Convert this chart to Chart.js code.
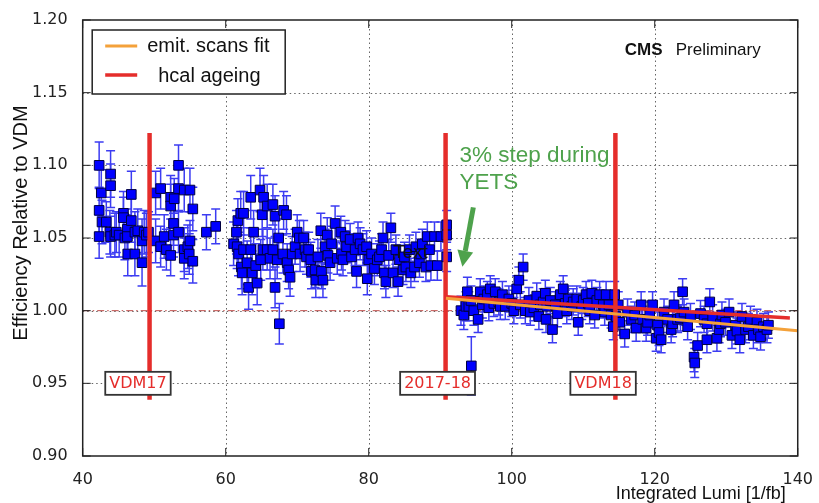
<!DOCTYPE html>
<html lang="en">
<head>
<meta charset="UTF-8" />
<title>Efficiency relative to VDM vs integrated lumi</title>
<script src="https://cdn.jsdelivr.net/npm/chart.js"></script>
<style>
  body { margin: 0; background: #fff; }
  canvas { display: block; }
</style>
</head>
<body>
<canvas id="effChart" width="819" height="503"></canvas>
<script>
// [integrated lumi (1/fb), efficiency relative to VDM, error]
const pts2017early = [
  [42.3,1.100,0.016],[42.3,1.069,0.016],[42.3,1.051,0.015],[42.6,1.081,0.016],[42.7,1.061,0.015],
  [43.3,1.061,0.014],[43.8,1.054,0.015],[43.9,1.094,0.016],[43.9,1.086,0.015],[43.9,1.051,0.014],
  [44.5,1.052,0.015],[44.7,1.054,0.014],[45.1,1.052,0.015],[45.7,1.067,0.015],[45.7,1.064,0.014],
  [45.9,1.050,0.015],[46.25,1.056,0.014],[46.25,1.051,0.015],[46.3,1.039,0.015],[46.8,1.080,0.016],
  [46.8,1.062,0.015],[47.3,1.054,0.014],[47.3,1.039,0.015],[47.7,1.055,0.015],[48.3,1.048,0.015],
  [48.3,1.033,0.016],[48.6,1.054,0.015],[48.9,1.052,0.015],[49.2,1.054,0.014]
];
const pts2017vdm = [
  [50.2,1.081,0.015],[50.2,1.048,0.015],[50.9,1.084,0.014],[50.9,1.044,0.014],[51.4,1.051,0.015],
  [51.7,1.042,0.014],[52.3,1.078,0.015],[52.3,1.072,0.015],[52.3,1.038,0.014],[52.7,1.060,0.015],
  [52.7,1.052,0.015],[52.8,1.077,0.014],[53.4,1.100,0.014],[53.4,1.084,0.015],[53.4,1.054,0.014],
  [54.2,1.083,0.015],[54.2,1.042,0.015],[54.2,1.036,0.014],[54.7,1.044,0.015],[54.9,1.039,0.014],
  [55.0,1.083,0.015],[55.0,1.048,0.014],[55.4,1.070,0.015],[55.4,1.034,0.015],[57.3,1.054,0.012],
  [58.6,1.058,0.012]
];
const pts2017late = [
  [61.1,1.046,0.015],[61.5,1.054,0.015],[61.6,1.044,0.015],[61.7,1.062,0.015],[61.8,1.039,0.015],
  [62.1,1.067,0.015],[62.2,1.030,0.015],[62.3,1.026,0.015],[62.5,1.067,0.015],[62.5,1.042,0.015],
  [63.0,1.033,0.015],[63.2,1.016,0.015],[63.5,1.078,0.015],[63.5,1.042,0.015],[63.7,1.026,0.015],
  [63.9,1.054,0.015],[64.2,1.031,0.015],[64.4,1.019,0.015],[64.8,1.083,0.015],[64.9,1.035,0.014],
  [65.1,1.066,0.015],[65.2,1.042,0.014],[65.3,1.078,0.015],[65.8,1.072,0.015],[65.8,1.042,0.014],
  [66.2,1.036,0.014],[66.6,1.073,0.014],[66.6,1.042,0.014],[66.9,1.065,0.014],[66.9,1.016,0.014],
  [67.2,1.035,0.013],[67.4,1.050,0.013],[67.5,0.991,0.014],[68.0,1.039,0.013],[68.1,1.069,0.013],
  [68.5,1.066,0.013],[68.6,1.033,0.013],[68.8,1.028,0.013],[69.0,1.023,0.013],[69.3,1.039,0.012],
  [69.7,1.044,0.012],[70.0,1.054,0.012],[70.3,1.050,0.012],[70.4,1.039,0.012],[70.9,1.050,0.012],
  [71.1,1.042,0.012],[71.3,1.037,0.012],[71.6,1.042,0.012],[71.9,1.035,0.012],[72.0,1.027,0.012],
  [72.5,1.028,0.012],[72.6,1.021,0.012],[72.9,1.037,0.012],[73.3,1.055,0.012],[73.4,1.027,0.012],
  [73.6,1.021,0.012],[73.9,1.044,0.012],[74.2,1.052,0.012],[74.3,1.038,0.012],[74.6,1.033,0.012],
  [74.8,1.046,0.012],[75.3,1.060,0.012],[75.6,1.036,0.011],[76.1,1.054,0.011],[76.2,1.039,0.011],
  [76.4,1.035,0.011],[76.7,1.051,0.011],[76.9,1.044,0.011],[77.4,1.049,0.011],[77.6,1.037,0.011],
  [78.1,1.042,0.011],[78.3,1.027,0.011],[78.5,1.050,0.011],[78.8,1.046,0.011],[79.2,1.042,0.011],
  [79.7,1.044,0.011],[79.8,1.022,0.011],[80.0,1.035,0.011],[80.4,1.039,0.011],[80.8,1.029,0.011],
  [81.2,1.035,0.011],[81.5,1.037,0.011],[81.8,1.042,0.011],[82.0,1.050,0.011],[82.2,1.026,0.011],
  [82.4,1.020,0.011],[82.8,1.038,0.011],[83.1,1.057,0.010],[83.4,1.026,0.010],[83.8,1.042,0.010],
  [84.1,1.020,0.010],[84.3,1.035,0.010],[84.8,1.028,0.010],[85.0,1.037,0.010],[85.2,1.030,0.010],
  [85.7,1.042,0.010],[85.9,1.026,0.010],[86.4,1.030,0.010],[86.6,1.044,0.010],[87.1,1.033,0.010],
  [87.3,1.039,0.010],[87.5,1.046,0.010],[88.0,1.030,0.010],[88.2,1.051,0.010],[88.5,1.042,0.010],
  [88.7,1.031,0.010],[89.2,1.051,0.010],[89.6,1.031,0.010],[90.1,1.051,0.010],[90.9,1.059,0.010],
  [90.9,1.052,0.010],[90.9,1.037,0.010]
];
const pts2018early = [
  [92.9,1.000,0.010],[93.3,0.997,0.010],[93.6,1.003,0.010],[93.8,1.013,0.010],[94.0,1.003,0.010],
  [94.3,1.007,0.010],[94.35,0.962,0.020],[94.7,1.000,0.010],[95.3,0.994,0.009],[95.6,1.013,0.009],
  [95.9,1.004,0.009],[96.1,1.008,0.009],[96.6,1.011,0.009],[96.8,1.002,0.009],[97.0,1.015,0.009],
  [97.5,1.005,0.009],[97.7,1.013,0.009],[98.2,1.006,0.009],[98.4,1.003,0.009],[98.7,1.011,0.009],
  [99.1,1.003,0.009],[99.6,1.008,0.009],[100.0,1.005,0.009],[100.3,1.000,0.009],[100.7,1.015,0.009],
  [101.0,1.021,0.009],[101.2,1.004,0.009],[101.6,1.030,0.009],[101.9,1.000,0.009],[102.4,1.007,0.009],
  [102.6,0.999,0.009],[103.1,1.002,0.009],[103.5,1.010,0.009],[103.8,0.996,0.009],[104.0,1.004,0.009],
  [104.4,1.006,0.009],[104.7,1.012,0.009],[104.8,0.994,0.009],[104.9,1.003,0.009],[105.4,1.007,0.009],
  [105.7,0.987,0.009],[106.1,1.004,0.009],[106.4,0.998,0.009],[106.8,1.011,0.009],[107.2,1.015,0.009],
  [107.5,1.005,0.009],[107.7,1.000,0.009],[107.9,1.008,0.009],[108.4,1.003,0.009],[108.6,1.006,0.009],
  [109.1,1.008,0.009],[109.3,0.992,0.009],[109.8,1.003,0.009],[110.0,1.007,0.009],[110.4,1.011,0.009],
  [110.7,1.005,0.009],[110.9,1.000,0.009],[111.2,1.012,0.009],[111.6,0.997,0.009],[111.9,1.007,0.009],
  [112.3,1.011,0.009],[112.8,1.004,0.009],[113.0,0.999,0.009],[113.2,1.011,0.009],[113.6,1.004,0.009],
  [113.9,0.997,0.009],[114.2,0.989,0.009],[114.4,1.011,0.009]
];
const pts2018late = [
  [114.6,0.996,0.009],[114.9,1.004,0.009],[115.1,0.992,0.009],[115.8,0.984,0.009],[116.2,0.999,0.009],
  [116.7,0.994,0.009],[117.2,0.997,0.009],[117.4,0.988,0.009],[118.1,1.004,0.009],[118.3,0.994,0.009],
  [118.8,0.988,0.009],[119.0,0.992,0.009],[119.3,0.997,0.009],[119.7,1.004,0.009],[120.2,0.981,0.009],
  [120.4,0.990,0.009],[120.6,0.985,0.009],[120.9,0.980,0.009],[121.3,0.999,0.009],[121.8,0.994,0.009],
  [122.3,0.987,0.009],[122.5,0.991,0.009],[122.7,1.004,0.009],[123.2,0.994,0.009],[123.6,0.995,0.009],
  [123.9,1.013,0.009],[124.1,0.999,0.009],[124.6,0.989,0.009],[125.0,0.996,0.009],[125.5,0.968,0.010],
  [125.6,0.964,0.010],[126.0,0.976,0.009],[126.4,0.998,0.009],[126.9,0.994,0.009],[127.3,0.980,0.009],
  [127.3,0.991,0.009],[127.7,1.006,0.009],[128.1,0.995,0.009],[128.7,0.981,0.009],[129.0,0.987,0.009],
  [129.2,0.991,0.009],[129.4,0.997,0.009],[129.9,0.992,0.009],[130.4,0.999,0.009],[130.8,0.983,0.009],
  [131.3,0.990,0.009],[131.5,0.986,0.009],[131.9,0.980,0.009],[132.2,0.996,0.009],[132.7,0.987,0.009],
  [133.1,0.989,0.009],[133.4,0.994,0.009],[133.8,0.983,0.009],[134.3,0.992,0.009],[134.5,0.987,0.009],
  [134.8,0.982,0.009],[135.2,0.989,0.009],[135.7,0.987,0.009],[135.9,0.990,0.009]
];

// fits: [lumi, eff] end points
const fitEmit = [[90.8,1.0085],[140,0.9862]];
const fitHcal = [[90.8,1.0095],[138.9,0.9950]];
// vertical markers (lumi) and their labels
const markerLumi = [49.35, 90.75, 114.5];
const markerRange = [0.9387, 1.1222];
const markerLabels = ['VDM17', '2017-18', 'VDM18'];
const markerLabelLumi = [47.73, 89.63, 112.78];
const markerLabelEff = 0.95;
const unityLine = [[40,1.0],[140,1.0]];

const xTicks = [40, 60, 80, 100, 120, 140];
const yTicks = [0.90, 0.95, 1.00, 1.05, 1.10, 1.15, 1.20];

const ORANGE = '#f4a13a';
const RED = '#e52d2b';
const GREEN = '#4ea24c';

const allPts = [].concat(pts2017early, pts2017vdm, pts2017late, pts2018early, pts2018late)
  .map(p => ({x: p[0], y: p[1], e: p[2]}));
const toXY = arr => arr.map(p => ({x: p[0], y: p[1]}));

const lineDs = (data, color, width, order) => ({
  data, borderColor: color, borderWidth: width, showLine: true,
  pointRadius: 0, pointHoverRadius: 0, fill: false, order
});

const datasets = [
  lineDs(toXY(fitEmit), ORANGE, 3, 0),
  lineDs(toXY(fitHcal), RED, 3.5, 1),
  ...markerLumi.map(x => lineDs([{x, y: markerRange[0]}, {x, y: markerRange[1]}], RED, 4.5, 2)),
  {
    data: allPts, pointStyle: 'rect', pointRadius: 6.8, pointHoverRadius: 6.8,
    backgroundColor: '#0000ff', borderColor: '#000040', borderWidth: 1, order: 5, errorBars: true
  },
  Object.assign(lineDs(toXY(unityLine), '#c0504d', 1, 6), {borderDash: [7, 3, 1.5, 3]})
];

const overlay = {
  id: 'overlay',
  beforeDatasetsDraw(chart) {
    const {ctx, chartArea: a, scales: {x, y}} = chart;
    ctx.save();
    // dotted grid
    ctx.strokeStyle = '#666';
    ctx.lineWidth = 1;
    ctx.setLineDash([1.5, 3]);
    xTicks.slice(1, -1).forEach(v => {
      const px = Math.round(x.getPixelForValue(v)) + 0.5;
      ctx.beginPath(); ctx.moveTo(px, a.top); ctx.lineTo(px, a.bottom); ctx.stroke();
    });
    yTicks.slice(1, -1).forEach(v => {
      const py = Math.round(y.getPixelForValue(v)) + 0.5;
      ctx.beginPath(); ctx.moveTo(a.left, py); ctx.lineTo(a.right, py); ctx.stroke();
    });
    ctx.setLineDash([]);
    // error bars
    ctx.strokeStyle = '#3c3cf2';
    ctx.lineWidth = 1.5;
    chart.data.datasets.forEach(ds => {
      if (!ds.errorBars) return;
      ds.data.forEach(p => {
        const px = x.getPixelForValue(p.x);
        const y1 = y.getPixelForValue(p.y - p.e);
        const y2 = y.getPixelForValue(p.y + p.e);
        ctx.beginPath();
        ctx.moveTo(px, y1); ctx.lineTo(px, y2);
        ctx.moveTo(px - 4.5, y1); ctx.lineTo(px + 4.5, y1);
        ctx.moveTo(px - 4.5, y2); ctx.lineTo(px + 4.5, y2);
        ctx.stroke();
      });
    });
    ctx.restore();
  },
  afterDatasetsDraw(chart) {
    const {ctx, chartArea: a, scales: {x, y}} = chart;
    ctx.save();
    // marker labels
    ctx.font = '16px "DejaVu Sans"';
    ctx.textBaseline = 'middle';
    ctx.textAlign = 'center';
    markerLabels.forEach((t, i) => {
      const cx = x.getPixelForValue(markerLabelLumi[i]);
      const cy = y.getPixelForValue(markerLabelEff);
      const w = ctx.measureText(t).width + 8;
      ctx.fillStyle = '#fff';
      ctx.fillRect(cx - w / 2, cy - 11.5, w, 23);
      ctx.strokeStyle = '#333';
      ctx.lineWidth = 1.8;
      ctx.strokeRect(cx - w / 2, cy - 11.5, w, 23);
      ctx.fillStyle = RED;
      ctx.fillText(t, cx, cy + 1);
    });
    // stray text
    ctx.textAlign = 'left';
    ctx.textBaseline = 'alphabetic';
    ctx.fillStyle = '#111';
    ctx.font = '19px "Liberation Sans"';
    ctx.fillText('Text', x.getPixelForValue(83.4), y.getPixelForValue(1.0362));
    // annotation
    ctx.fillStyle = GREEN;
    ctx.font = '22.5px "Liberation Sans"';
    ctx.fillText('3% step during', x.getPixelForValue(92.7), y.getPixelForValue(1.1023));
    ctx.fillText('YETS', x.getPixelForValue(92.7), y.getPixelForValue(1.0837));
    // arrow
    const tx = x.getPixelForValue(94.63), ty = y.getPixelForValue(1.0711);
    const hx = x.getPixelForValue(93.10), hy = y.getPixelForValue(1.0302);
    const ang = Math.atan2(hy - ty, hx - tx);
    const headLen = 16, headW = 8;
    const bx = hx - headLen * Math.cos(ang), by = hy - headLen * Math.sin(ang);
    ctx.strokeStyle = GREEN;
    ctx.lineWidth = 5;
    ctx.beginPath(); ctx.moveTo(tx, ty); ctx.lineTo(bx, by); ctx.stroke();
    ctx.beginPath();
    ctx.moveTo(hx, hy);
    ctx.lineTo(bx + headW * Math.sin(ang), by - headW * Math.cos(ang));
    ctx.lineTo(bx - headW * Math.sin(ang), by + headW * Math.cos(ang));
    ctx.closePath();
    ctx.fill();
    // CMS Preliminary
    ctx.fillStyle = '#111';
    ctx.font = 'bold 17px "Liberation Sans"';
    ctx.fillText('CMS', a.left + 542, a.top + 35);
    ctx.font = '17px "Liberation Sans"';
    ctx.fillText('Preliminary', a.left + 593, a.top + 35);
    // legend
    const lx = a.left + 9.5, ly = a.top + 10;
    ctx.fillStyle = '#fff';
    ctx.fillRect(lx, ly, 193, 64);
    ctx.strokeStyle = '#222';
    ctx.lineWidth = 1.5;
    ctx.strokeRect(lx, ly, 193, 64);
    ctx.lineWidth = 3;
    ctx.strokeStyle = ORANGE;
    ctx.beginPath(); ctx.moveTo(lx + 13, ly + 16); ctx.lineTo(lx + 45, ly + 16); ctx.stroke();
    ctx.strokeStyle = RED;
    ctx.lineWidth = 3.5;
    ctx.beginPath(); ctx.moveTo(lx + 13, ly + 45); ctx.lineTo(lx + 45, ly + 45); ctx.stroke();
    ctx.fillStyle = '#111';
    ctx.font = '20px "Liberation Sans"';
    ctx.fillText('emit. scans fit', lx + 55, ly + 22);
    ctx.fillText('hcal ageing', lx + 66, ly + 52);
    // frame with inward ticks
    ctx.strokeStyle = '#222';
    ctx.lineWidth = 1.5;
    ctx.strokeRect(a.left, a.top, a.right - a.left, a.bottom - a.top);
    ctx.lineWidth = 1;
    ctx.beginPath();
    xTicks.forEach(v => {
      const px = x.getPixelForValue(v);
      ctx.moveTo(px, a.bottom); ctx.lineTo(px, a.bottom - 8);
      ctx.moveTo(px, a.top); ctx.lineTo(px, a.top + 8);
    });
    yTicks.forEach(v => {
      const py = y.getPixelForValue(v);
      ctx.moveTo(a.left, py); ctx.lineTo(a.left + 8, py);
      ctx.moveTo(a.right, py); ctx.lineTo(a.right - 8, py);
    });
    ctx.stroke();
    // axis titles
    ctx.fillStyle = '#111';
    ctx.font = '18px "Liberation Sans"';
    ctx.textAlign = 'right';
    ctx.fillText('Integrated Lumi [1/fb]', a.right - 12, 499);
    ctx.translate(27, 223);
    ctx.rotate(-Math.PI / 2);
    ctx.textAlign = 'center';
    ctx.font = '20px "Liberation Sans"';
    ctx.fillText('Efficiency Relative to VDM', 0, 0);
    ctx.restore();
  }
};

new Chart(document.getElementById('effChart'), {
  type: 'scatter',
  data: {datasets},
  options: {
    responsive: false,
    animation: false,
    events: [],
    layout: {padding: {top: 20, right: 16, bottom: 0, left: 0}},
    plugins: {legend: {display: false}, tooltip: {enabled: false}},
    scales: {
      x: {
        type: 'linear', min: 40, max: 140,
        afterBuildTicks: s => { s.ticks = xTicks.map(v => ({value: v})); },
        ticks: {font: {family: 'DejaVu Sans', size: 16}, color: '#222', padding: 6},
        grid: {display: false}, border: {display: false},
        afterFit: s => { s.height = 47; }
      },
      y: {
        type: 'linear', min: 0.9, max: 1.2,
        afterBuildTicks: s => { s.ticks = yTicks.map(v => ({value: v})); },
        ticks: {font: {family: 'DejaVu Sans', size: 16}, color: '#222', padding: 7,
                callback: v => Number(v).toFixed(2)},
        grid: {display: false}, border: {display: false},
        afterFit: s => { s.width = 82.7; }
      }
    }
  },
  plugins: [overlay]
});
</script>
</body>
</html>
